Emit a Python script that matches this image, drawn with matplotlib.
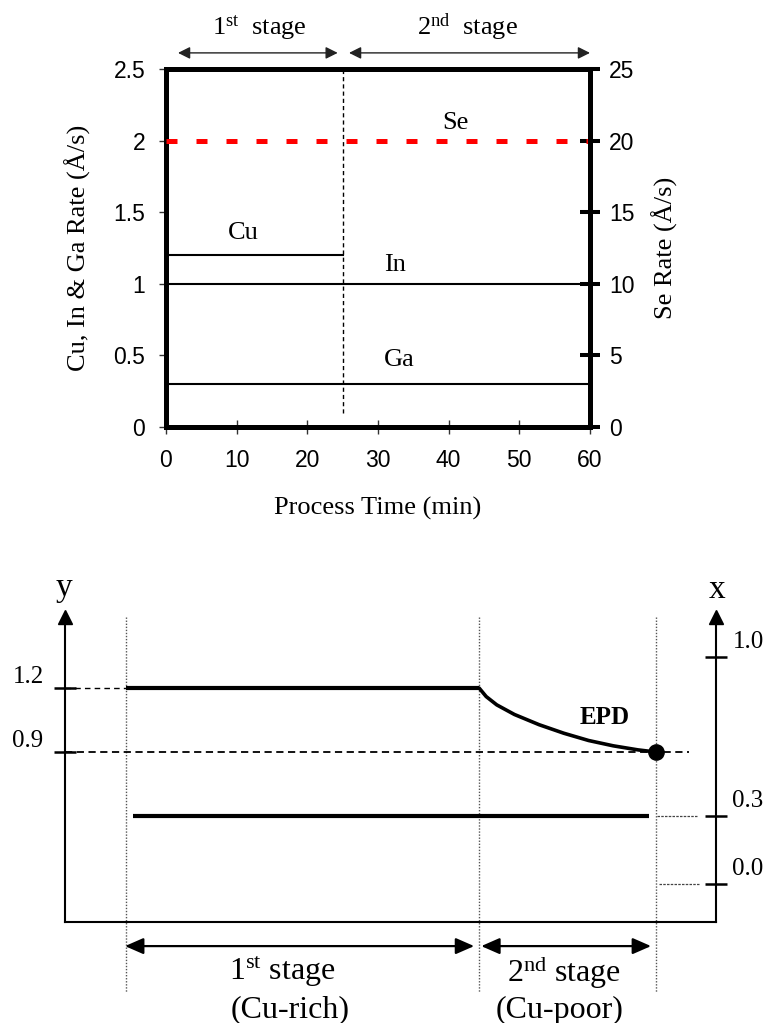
import matplotlib.pyplot as plt
from matplotlib.transforms import blended_transform_factory as blend

plt.rcParams['font.family'] = ['Liberation Sans', 'DejaVu Sans']
plt.rcParams['mathtext.fontset'] = 'custom'
plt.rcParams['mathtext.rm'] = 'Liberation Serif'
plt.rcParams['mathtext.it'] = 'Liberation Serif:italic'
plt.rcParams['mathtext.bf'] = 'Liberation Serif:bold'
SERIF = ['Liberation Serif', 'DejaVu Serif']
PX = 0.72  # points per pixel at dpi 100

# ---- top chart: deposition rates ----
time_ticks = [0, 10, 20, 30, 40, 50, 60]
rate_ticks = [0, 0.5, 1, 1.5, 2, 2.5]
rate_labels = ['0', '0.5', '1', '1.5', '2', '2.5']
se_ticks = [0, 5, 10, 15, 20, 25]
stage_switch = 25
cu_time, cu_rate = [0, 25], [1.2, 1.2]
in_time, in_rate = [0, 60], [1.0, 1.0]
ga_time, ga_rate = [0, 60], [0.3, 0.3]
se_time, se_rate = [0, 60], [20, 20]

# ---- bottom sketch: composition vs stage ----
stage_t = [0, 100, 150]
y_ticks = [1.2, 0.9]
x_ticks = [1.0, 0.3, 0.0]
y_flat_t, y_flat = [0, 100], [1.2, 1.2]
y_curve_t = [100, 102, 105, 110, 117, 124, 131, 138, 145, 150]
y_curve = [1.2, 1.16, 1.121, 1.076, 1.028, 0.988, 0.954, 0.929, 0.910, 0.9]
epd_t, epd_y = 150, 0.9
ga_t, ga_x = [2, 148], [0.3, 0.3]

fig = plt.figure(figsize=(7.67, 10.23), dpi=100)

# ================= top chart =================
ax = fig.add_axes([166 / 767, 596 / 1023, 424 / 767, 358 / 1023])
ax2 = ax.twinx()

ax.set_xlim(0, 60)
ax.set_ylim(0, 2.5)
ax2.set_ylim(0, 25)
ax.set_xticks(time_ticks)
ax.set_yticks(rate_ticks, labels=rate_labels)
ax2.set_yticks(se_ticks)

for s in ['left', 'top', 'bottom']:
    ax.spines[s].set_linewidth(3.6)
ax.spines['right'].set_visible(False)
for s in ['left', 'top', 'bottom']:
    ax2.spines[s].set_visible(False)
ax2.spines['right'].set_linewidth(3.6)

ax.tick_params(axis='x', direction='inout', length=9.4, width=1, color='#333',
               pad=11, labelsize=16.5)
ax.tick_params(axis='y', direction='out', length=5, width=1, color='#333',
               pad=10, labelsize=16.5)
ax2.tick_params(axis='y', direction='inout', length=14.4, width=2.9,
                pad=6.5, labelsize=16.5)

ax.plot(cu_time, cu_rate, color='black', lw=1.5)
ax.plot(in_time, in_rate, color='black', lw=1.5)
ax.plot(ga_time, ga_rate, color='black', lw=1.5)
ax2.plot(se_time, se_rate, color='#ff0000', lw=3.6, dashes=(2.2, 3.8))
ax.plot([stage_switch, stage_switch], [0.1, 2.5], color='black', lw=1,
        dashes=(3, 2.2))

ax.text(11, 1.355, 'Cu', family=SERIF, fontsize=19, ha='center', va='center')
ax.text(32.4, 1.13, 'In', family=SERIF, fontsize=19, ha='center', va='center')
ax.text(33, 0.47, 'Ga', family=SERIF, fontsize=19, ha='center', va='center')
ax2.text(41, 21.2, 'Se', family=SERIF, fontsize=19, ha='center', va='center')

ax.set_xlabel('Process Time (min)', family=SERIF, fontsize=19)
ax.xaxis.set_label_coords(0.5, -0.195)
ax.set_ylabel('Cu, In & Ga Rate (Å/s)', family=SERIF, fontsize=19)
ax.yaxis.set_label_coords(-0.177, 0.5)
ax2.set_ylabel('Se Rate (Å/s)', family=SERIF, fontsize=19, rotation=90)
ax2.yaxis.set_label_coords(1.145, 0.5)

tx = ax.get_xaxis_transform()
head = '<|-|>,head_length=0.6,head_width=0.3'
ax.annotate('', xy=(24.3, 1.045), xytext=(1.7, 1.045), xycoords=tx,
            arrowprops=dict(arrowstyle=head, color='#222', lw=1,
                            mutation_scale=12, shrinkA=0, shrinkB=0),
            annotation_clip=False)
ax.annotate('', xy=(60, 1.045), xytext=(25.9, 1.045), xycoords=tx,
            arrowprops=dict(arrowstyle=head, color='#222', lw=1,
                            mutation_scale=12, shrinkA=0, shrinkB=0),
            annotation_clip=False)
ax.text(13.2, 1.117, r'1$^{\mathrm{st}}$  stage', transform=tx, family=SERIF,
        fontsize=19, ha='center', va='center')
ax.text(42.6, 1.117, r'2$^{\mathrm{nd}}$  stage', transform=tx, family=SERIF,
        fontsize=19, ha='center', va='center')

# ================= bottom sketch =================
axb = fig.add_axes([65 / 767, 101 / 1023, 651 / 767, 305 / 1023])
axb2 = axb.twinx()
axb.set_xlim(-17.3, 167.1)
axb.set_ylim(0.103, 1.533)
axb2.set_ylim(-0.167, 1.176)
axb.set_xticks([])
axb.set_yticks(y_ticks)
axb2.set_yticks(x_ticks)

axb.spines['top'].set_visible(False)
axb.spines['right'].set_visible(False)
for s in ['left', 'bottom']:
    axb.spines[s].set_linewidth(1.5)
for s in ['left', 'top', 'bottom']:
    axb2.spines[s].set_visible(False)
axb2.spines['right'].set_linewidth(1.5)

axb.tick_params(axis='y', direction='inout', length=16, width=1.8,
                labelleft=False)
axb2.tick_params(axis='y', direction='inout', length=16.5, width=1.8,
                 labelright=False)

# arrowheads on the two vertical axes
axb.plot([0], [1], marker='^', ms=9.5, color='black', transform=axb.transAxes,
         clip_on=False)
axb.plot([1], [1], marker='^', ms=9.5, color='black', transform=axb.transAxes,
         clip_on=False)
axb.annotate('y', xy=(0, 1), xycoords='axes fraction', xytext=(-1, 29 * PX),
             textcoords='offset points', family=SERIF, fontsize=24,
             ha='center', va='center')
axb.annotate('x', xy=(1, 1), xycoords='axes fraction', xytext=(1, 27 * PX),
             textcoords='offset points', family=SERIF, fontsize=24,
             ha='center', va='center')

# tick labels
ly = blend(axb.transAxes, axb.transData)
for v in y_ticks:
    axb.annotate(f'{v:.1f}', xy=(0, v), xycoords=ly,
                 xytext=(-37 * PX, 11 * PX), textcoords='offset points',
                 family=SERIF, fontsize=18, ha='center', va='center')
ry = blend(axb2.transAxes, axb2.transData)
for v in x_ticks:
    axb2.annotate(f'{v:.1f}', xy=(1, v), xycoords=ry,
                  xytext=(32 * PX, 15 * PX), textcoords='offset points',
                  family=SERIF, fontsize=18, ha='center', va='center')

# stage boundaries
for t in stage_t:
    axb.plot([t, t], [1.533, -0.225], color='#555', lw=1, dashes=(1, 1.2),
             clip_on=False)

# guide lines
axb.plot([-17.3, 0], [1.2, 1.2], color='black', lw=1, dashes=(4, 3))
axb.plot([-17.3, 159.5], [0.9, 0.9], color='black', lw=1.3, dashes=(4, 2.5))
axb2.plot([150.4, 162], [0.3, 0.3], color='#444', lw=0.9, dashes=(2, 1))
axb2.plot([151, 162.6], [0.0, 0.0], color='#444', lw=0.9, dashes=(2, 1))

# composition curves
axb.plot(y_flat_t, y_flat, color='black', lw=3, solid_capstyle='butt')
axb.plot(y_curve_t, y_curve, color='black', lw=2.6, solid_capstyle='round',
         solid_joinstyle='round')
axb.plot([epd_t], [epd_y], 'o', color='black', ms=11)
axb2.plot(ga_t, ga_x, color='black', lw=3, solid_capstyle='butt')
axb.text(135.7, 1.064, 'EPD', family=SERIF, fontsize=18, fontweight='bold',
         ha='center', va='center')

# stage arrows and names
bx = axb.get_xaxis_transform()
head2 = '<|-|>,head_length=0.8,head_width=0.35'
axb.annotate('', xy=(98.6, -0.079), xytext=(-0.3, -0.079), xycoords=bx,
             arrowprops=dict(arrowstyle=head2, color='black', lw=1.6,
                             mutation_scale=14, shrinkA=0, shrinkB=0),
             annotation_clip=False)
axb.annotate('', xy=(148.7, -0.079), xytext=(100.6, -0.079), xycoords=bx,
             arrowprops=dict(arrowstyle=head2, color='black', lw=1.6,
                             mutation_scale=14, shrinkA=0, shrinkB=0),
             annotation_clip=False)
axb.text(44.2, -0.164, r'1$^{\mathrm{st}}$ stage', transform=bx, family=SERIF,
         fontsize=23, ha='center', va='center')
axb.text(46.5, -0.289, '(Cu-rich)', transform=bx, family=SERIF,
         fontsize=23, ha='center', va='center')
axb.text(124.1, -0.164, r'2$^{\mathrm{nd}}$ stage', transform=bx, family=SERIF,
         fontsize=23, ha='center', va='center')
axb.text(122.7, -0.289, '(Cu-poor)', transform=bx, family=SERIF,
         fontsize=23, ha='center', va='center')

fig.savefig('out.png', dpi=100)
